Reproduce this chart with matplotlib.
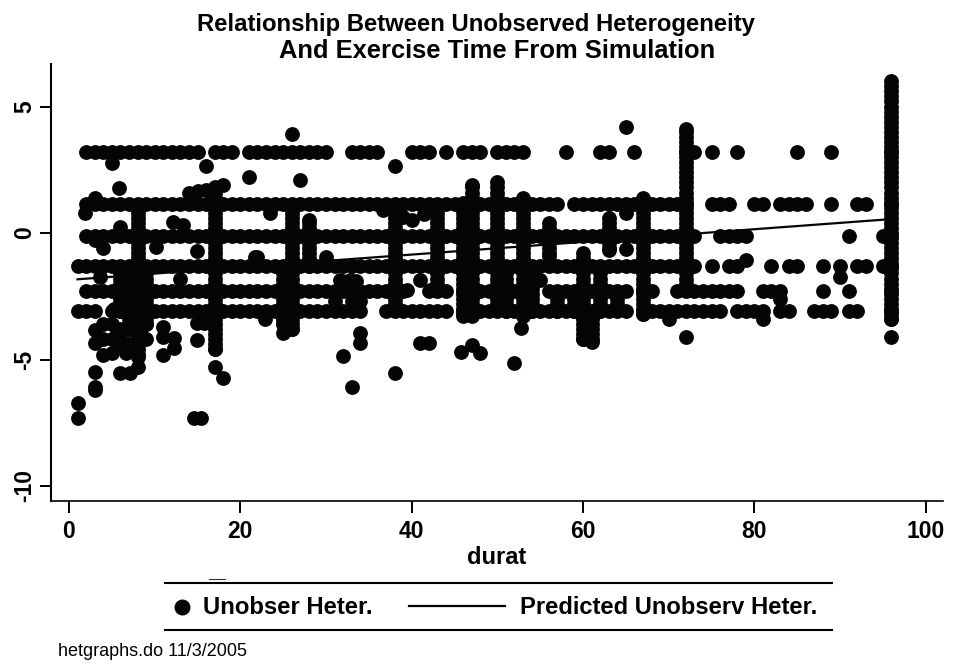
import matplotlib
matplotlib.use("Agg")
import matplotlib.pyplot as plt
from matplotlib.lines import Line2D

W, H = 954, 666
plt.rcParams['font.family'] = ['Liberation Sans', 'DejaVu Sans']

# Horizontal bands of the scatter: level and durat values
row_levels = [3.2, 1.15, -0.1, -1.3, -2.28, -3.1]
row_32 = [2,3,4,5,6,7,8,9,10,11,12,13,14,15,17,18,19,21,22,23,24,25,26,27,28,29,30,33,34,35,36,
          40,41,42,44,46,47,48,50,51,52,53,58,62,63,66,72,73,75,78,85,89,96]
row_12 = [2,3,4,5,6,7,8,9,10,11,12,13,14,15,16,17,18,19,20,21,22,23,24,25,26,27,28,29,30,31,32,33,34,35,
          36,37,38,39,40,41,42,43,44,45,46,47,48,49,50,51,52,53,54,55,56,57,59,60,61,62,63,64,65,66,67,68,
          69,70,71,72,75,76,77,80,81,83,84,85,86,89,92,93,96]
row_00 = [2,3,4,5,6,7,8,9,10,11,12,13,14,15,16,17,18,19,20,21,22,23,24,25,26,27,28,29,30,31,32,33,34,35,
          36,37,38,39,40,41,42,43,44,45,46,47,48,49,50,51,52,53,54,55,56,57,58,59,60,61,62,63,64,65,66,67,
          68,69,70,71,72,73,76,77,78,79,91,95,96]
row_m1 = [1,2,3,4,5,6,7,8,9,10,11,12,13,14,15,16,17,18,19,20,21,22,23,24,25,26,27,28,29,30,31,32,33,34,
          35,36,37,38,39,40,41,42,43,44,45,46,47,48,49,50,51,52,53,54,55,56,57,58,59,60,61,62,63,64,65,66,
          67,68,69,70,71,72,73,75,77,78,82,84,85,88,90,92,93,95,96]
row_m2 = [2,3,4,5,6,7,8,9,10,11,12,13,14,15,16,17,18,19,20,21,22,23,24,25,26,27,28,29,30,31,32,33,34,35,
          36,37,38,39,42,43,44,46,47,48,49,50,52,53,56,57,58,59,60,61,62,63,64,65,67,68,71,72,73,74,
          75,76,77,78,81,82,83,88,91,96]
row_m3 = [1,2,3,5,6,7,8,9,10,11,12,13,14,15,16,17,18,19,20,21,22,23,24,25,26,27,28,29,30,31,32,33,34,
          37,38,39,40,41,42,43,44,46,47,48,49,50,51,52,53,54,55,56,57,58,59,60,61,62,63,65,67,68,69,70,71,
          72,73,74,75,76,78,79,80,81,83,84,87,88,89,91,92,96]
rows = [row_32, row_12, row_00, row_m1, row_m2, row_m3]

# Near-continuous vertical stacks: durat, highest and lowest level
column_durat = [6,7,8,9,17,25,26,28,38,43,46,47,50,51,53,54,56,57,59,60,61,62,63,64,67,72,96]
column_top =   [-1.3,-1.3,1.0,-1.3,1.6,-1.3,1.0,0.5,0.9,1.0,1.3,1.9,2.1,-1.3,1.5,-1.3,0.4,-2.28,-2.28,-0.67,-3.1,-1.3,0.65,-2.28,1.5,4.1,6.0]
column_low =   [-3.1,-3.8,-4.9,-3.6,-4.6,-3.6,-3.8,-1.3,-3.05,-2.2,-3.3,-3.3,-3.0,-3.1,-3.3,-3.1,-0.9,-3.1,-3.1,-4.2,-4.3,-3.1,-0.67,-3.1,-3.2,-2.2,-3.4]
column_grid = [6.0,5.8,5.6,5.4,5.2,5.0,4.8,4.6,4.4,4.2,4.0,3.8,3.6,3.4,3.2,3.0,2.8,2.6,2.4,2.2,2.0,1.8,1.6,1.4,1.2,
               1.0,0.8,0.6,0.4,0.2,0.0,-0.2,-0.4,-0.6,-0.8,-1.0,-1.2,-1.4,-1.6,-1.8,-2.0,-2.2,-2.4,-2.6,-2.8,
               -3.0,-3.2,-3.4,-3.6,-3.8,-4.0,-4.2,-4.4,-4.6,-4.8]

# Stray points
stray_x = [5,16,38,26,5.8,21,27,14,15,16,17,18,47,
           1.87,3,12.1,13.3,5.9,4,3,10.1,14.9,21.7,3.6,13,5.2,14.9,15.7,
           3,3,4,5,5.6,6.7,8.5,11,11,12.2,12.2,11,14.9,5.9,7.1,8.1,3,3,18,
           4,5,4,5,6,7,6,8,9,6.7,5.6,
           22,22.9,25,28,30,32.8,31.6,34,34,32,38,41,42,33,36.7,40,41.4,39,23.5,41,39.4,42.1,
           33.5,31,33,34,
           55,52.8,45.8,47,48,52,1,1,3,14.6,15.4,17,
           65,72,72,96,81,79,90,83,70,65,65]
stray_y = [2.75,2.65,2.65,3.9,1.78,2.2,2.1,1.6,1.65,1.7,1.8,1.9,1.9,
           0.78,1.37,0.45,0.3,0.25,-0.6,-0.27,-0.55,-0.73,-0.93,-1.73,-1.8,-3.0,-3.57,-3.57,
           -3.83,-4.36,-4.82,-4.76,-3.96,-4.76,-4.1,-3.7,-4.1,-4.16,-4.56,-4.82,-4.23,-5.55,-5.55,-5.28,-5.48,-6.07,-5.74,
           -3.6,-3.6,-4.2,-4.2,-4.2,-4.4,-3.8,-3.6,-4.2,-4.4,-4.4,
           -0.93,-3.4,-3.95,0.52,-0.94,-1.86,-1.87,-3.97,-4.36,-4.88,-5.55,-4.36,-4.36,-6.1,0.9,0.5,0.77,0.65,0.78,-1.87,-2.25,-2.25,
           -1.9,-2.7,-2.7,-2.7,
           -1.86,-3.77,-4.69,-4.43,-4.76,-5.15,-6.7,-7.3,-6.2,-7.3,-7.3,-5.3,
           4.2,4.1,-4.1,-4.1,-3.4,-1.05,-1.75,-2.6,-3.4,0.8,-0.65]

# Fitted line
fit_x = [1, 96]
fit_y = [-1.83, 0.55]

xticks = [0, 20, 40, 60, 80, 100]
yticks = [5, 0, -5, -10]

fig = plt.figure(figsize=(W / 100, H / 100), dpi=100)
def fx(p): return p / W
def fy(p): return 1 - p / H

L, R, T, B = 51, 942.7, 64, 501
ax = fig.add_axes([fx(L), fy(B), (R - L) / W, (B - T) / H])
ax.set_xlim((L - 69) / 8.567, (R - 69) / 8.567)
ax.set_ylim((233 - B) / 25.3, (233 - T) / 25.3)

xs, ys = [], []
for level, r in zip(row_levels, rows):
    xs += r
    ys += [level] * len(r)
for d, top, low in zip(column_durat, column_top, column_low):
    for g in column_grid:
        if low <= g <= top:
            xs.append(d)
            ys.append(g)
    xs.append(d); ys.append(low)
xs += stray_x
ys += stray_y

ax.scatter(xs, ys, s=114, c='#050505', linewidths=0, clip_on=False, zorder=2)
ax.plot(fit_x, fit_y, color='#050505', lw=1.6, zorder=3)

for s in ['top', 'right']:
    ax.spines[s].set_visible(False)
ax.spines['left'].set_linewidth(1.5)
ax.spines['bottom'].set_linewidth(1.2)
ax.set_xticks(xticks)
ax.set_yticks(yticks)
ax.set_xticklabels([str(v) for v in xticks], fontsize=16.5, fontweight='bold')
ax.set_yticklabels([str(v) for v in yticks], fontsize=16.5, rotation=90, va='center', fontweight='bold')
ax.tick_params(axis='x', length=8.5, width=1.4, pad=5)
ax.tick_params(axis='y', length=8, width=1.4, pad=2.5)
ax.set_xlabel('durat', fontsize=17, fontweight='bold', va='center')
ax.xaxis.set_label_coords((497 - L) / (R - L), (B - 558) / (B - T))

fig.text(fx(476), fy(24), 'Relationship Between Unobserved Heterogeneity', ha='center', va='center',
         fontsize=17.2, fontweight='bold')
fig.text(fx(497), fy(51), 'And Exercise Time From Simulation', ha='center', va='center',
         fontsize=18.4, fontweight='bold')

# Legend
for yp in (582.7, 630):
    fig.add_artist(Line2D([fx(165), fx(832)], [fy(yp), fy(yp)], color='black', lw=1.5))
fig.add_artist(Line2D([fx(209), fx(225)], [fy(579), fy(579)], color='#333333', lw=0.8))
fig.add_artist(Line2D([fx(182)], [fy(607)], marker='o', ms=11.5, color='#050505', mew=0, ls='none'))
fig.add_artist(Line2D([fx(409), fx(505)], [fy(606), fy(606)], color='#050505', lw=1.6))
fig.text(fx(203), fy(607), 'Unobser Heter.', ha='left', va='center', fontsize=17.2, fontweight='bold')
fig.text(fx(520), fy(607), 'Predicted Unobserv Heter.', ha='left', va='center', fontsize=17.1, fontweight='bold')
fig.text(fx(58), fy(651), 'hetgraphs.do 11/3/2005', ha='left', va='center', fontsize=13)

fig.savefig('out.png', dpi=100)
